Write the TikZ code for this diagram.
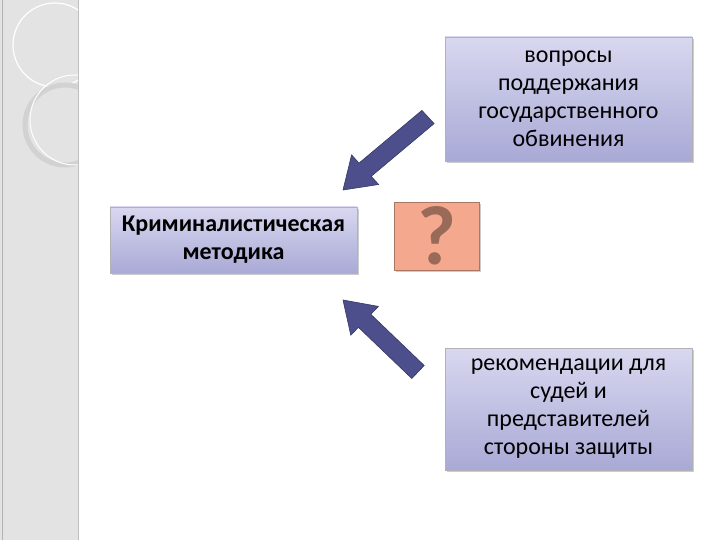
\documentclass[tikz,border=0pt]{standalone}
\usepackage{fontspec}
\setmainfont{Carlito}
\usetikzlibrary{arrows.meta,shadows}
\definecolor{boxtop}{HTML}{D8D8F0}
\definecolor{boxbot}{HTML}{A9A9D6}
\definecolor{arrowc}{HTML}{4C4F8C}
\definecolor{qfill}{HTML}{F4A88E}
\definecolor{qtext}{HTML}{9A6A58}
\tikzset{
  lav/.style={draw=gray!60, top color=boxtop, bottom color=boxbot, drop shadow={shadow xshift=2pt,shadow yshift=-2pt,opacity=0.4},
    align=center, font=\fontsize{24}{28}\selectfont, inner sep=0pt},
  blockarrow/.style={draw=arrowc!70!black, line width=0.6pt, fill=arrowc}
}
\begin{document}
\begin{tikzpicture}[x=1pt,y=-1pt]
\useasboundingbox (0,0) rectangle (720,540);
\fill[white] (0,0) rectangle (720,540);
% left decoration
\fill[gray!22] (0,0) rectangle (78,540);
\draw[gray!50, line width=1pt] (78,0) -- (78,540);
\draw[gray!60, line width=0.8pt] (2,0) -- (2,540);
\begin{scope}
\clip (0,0) rectangle (78,540);
\draw[white, line width=1.2pt] (55,45) circle (42);
\draw[gray!35, line width=5pt] (65,125) circle (40);
\draw[white, line width=1pt] (75,120) circle (45);
\end{scope}
% boxes
\node[lav, minimum width=247pt, minimum height=124pt] (top) at (568.5,99) {вопросы\\поддержания\\государственного\\обвинения};
\node[lav, minimum width=247pt, minimum height=66pt, font=\fontsize{24}{28}\selectfont\bfseries] (left) at (233.5,240) {Криминалистическая\\методика};
\node[lav, minimum width=247pt, minimum height=122pt] (bot) at (568.5,409) {рекомендации для\\судей и\\представителей\\стороны защиты};
\node[draw=qfill!70!black, fill=qfill, minimum width=85pt, minimum height=68pt, drop shadow={shadow xshift=2pt,shadow yshift=-2pt,opacity=0.4},
  font=\fontsize{84}{84}\selectfont\bfseries, text=qtext, inner sep=0pt] (q) at (436.5,236) {?};
% arrows (block shapes)
\coordinate (t1) at (343,190);
\coordinate (b1) at (343,300);
\draw[blockarrow] (t1) -- (378.6,184.5) -- (371.2,176.3) -- (434.1,123.6) -- (421.9,110.4) -- (359.0,163.1) -- (351.6,154.9) -- cycle;
\draw[blockarrow] (b1) -- (378.4,306.4) -- (370.8,314.3) -- (424.2,365.5) -- (411.8,378.5) -- (358.4,327.3) -- (350.8,335.2) -- cycle;
\end{tikzpicture}
\end{document}
